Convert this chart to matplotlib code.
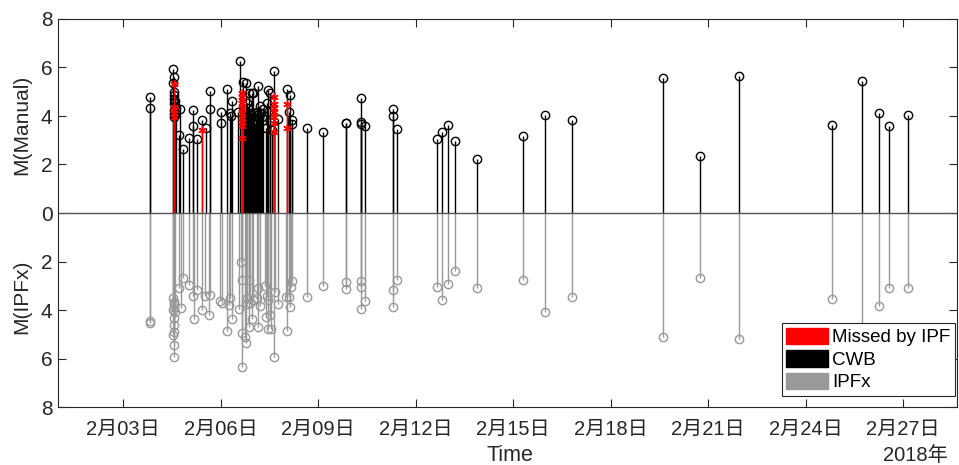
import numpy as np
import pandas as pd
import matplotlib
matplotlib.use("Agg")
import matplotlib.pyplot as plt
from matplotlib.patches import Patch

plt.rcParams['font.family'] = ['Liberation Sans', 'Noto Sans CJK SC']

# event times: days after 2018-02-01 00:00, magnitudes
cwb_t = [2.83, 2.83, 3.55, 3.56, 3.55, 3.57, 3.56, 3.58, 3.57, 3.59, 3.56, 3.58, 3.57,
         3.61, 3.62, 3.60, 3.73, 3.75, 3.86, 4.04, 4.16, 4.16, 4.29, 4.44, 4.55, 4.68,
         4.68, 5.00, 5.00, 5.21, 5.29, 5.32, 5.35, 5.55, 5.60, 5.70, 5.73, 5.75, 5.78,
         5.81, 5.84, 5.86, 5.88, 5.91, 5.94, 5.96, 5.99, 6.01, 6.04, 6.06, 6.08, 6.11,
         6.13, 6.16, 6.19, 6.22, 6.25, 6.27, 6.30, 6.39, 6.42, 6.45, 6.47, 6.52, 6.52,
         6.57, 6.65, 6.78, 7.04, 7.12, 7.14, 7.19, 7.21, 7.67, 8.14, 8.86, 8.87, 9.31,
         9.31, 9.33, 9.45, 10.32, 10.32, 10.44, 11.65, 11.81, 11.99, 12.22, 12.89, 14.30,
         14.98, 15.82, 18.60, 19.76, 20.95, 23.82, 24.75, 25.26, 25.57, 26.16]
cwb_m = [4.80, 4.32, 5.93, 5.62, 5.35, 5.00, 4.85, 4.70, 4.55, 4.40, 4.25, 4.10, 3.95,
         4.62, 4.35, 4.05, 3.22, 4.27, 2.64, 3.08, 4.25, 3.59, 3.04, 3.84, 3.52, 5.04,
         4.29, 4.18, 3.70, 5.10, 4.11, 4.00, 4.62, 4.18, 6.28, 5.41, 4.00, 4.20, 5.35,
         4.52, 3.90, 4.33, 4.94, 4.05, 4.11, 4.96, 3.95, 4.94, 4.11, 3.70, 3.85, 4.04,
         4.15, 5.24, 3.90, 4.41, 4.11, 3.95, 4.30, 3.49, 4.55, 5.07, 4.18, 4.94, 3.77,
         3.42, 5.87, 3.86, 5.10, 4.18, 4.87, 3.84, 3.67, 3.52, 3.34, 3.70, 3.72, 4.74,
         3.75, 3.68, 3.60, 4.29, 4.00, 3.45, 3.07, 3.33, 3.63, 2.97, 2.23, 3.19,
         4.03, 3.84, 5.55, 2.36, 5.66, 3.64, 5.46, 4.14, 3.57, 4.05]

missed_t = [3.56, 3.56, 3.56, 3.56, 3.56, 4.44,
            5.65, 5.65, 5.65, 5.65, 5.65, 5.65, 5.65, 5.65, 5.65, 5.65,
            6.65, 6.65, 6.65, 6.65, 6.65, 6.65, 6.65, 7.04, 7.04]
missed_m = [5.33, 4.38, 4.25, 4.11, 3.97, 3.42,
            4.94, 4.80, 4.67, 4.53, 4.33, 4.11, 3.90, 3.77, 3.57, 3.08,
            4.80, 4.50, 4.32, 4.18, 3.97, 3.70, 3.35, 4.48, 3.49]

ipf_t = [2.83, 2.83, 3.55, 3.56, 3.57, 3.55, 3.58, 3.56, 3.57, 3.55, 3.56, 3.56, 3.58,
         3.59, 3.73, 3.78, 3.86, 4.04, 4.16, 4.19, 4.29, 4.44, 4.52, 4.68, 4.66, 4.98,
         5.04, 5.21, 5.29, 5.26, 5.36, 5.57, 5.65, 5.63, 5.67, 5.67, 5.75, 5.78, 5.88,
         5.88, 5.98, 5.80, 5.83, 5.91, 6.01, 6.14, 6.16, 6.22, 6.11, 6.37, 6.42, 6.39,
         6.45, 6.55, 6.52, 6.47, 6.65, 6.68, 6.78, 7.04, 7.02, 7.14, 7.19, 7.17, 7.12,
         7.67, 8.14, 8.86, 8.87, 9.31, 9.33, 9.45, 9.31, 10.44, 10.32, 10.32, 11.65,
         11.81, 11.99, 12.22, 12.89, 14.30, 14.98, 15.82, 18.60, 19.76, 20.95, 23.82,
         24.75, 25.26, 25.57, 26.16]
ipf_m = [4.45, 4.52, 3.52, 3.66, 3.86, 4.00, 4.34, 4.62, 4.89, 5.03, 5.44, 5.92, 3.75,
         4.10, 3.08, 3.90, 2.69, 2.97, 3.42, 4.37, 3.18, 4.00, 3.42, 3.38, 4.22, 3.62,
         3.73, 4.85, 3.52, 3.79, 4.38, 3.97, 6.34, 2.00, 2.76, 4.96, 5.10, 5.35, 2.76,
         4.71, 4.38, 3.50, 3.75, 3.70, 3.60, 4.71, 3.10, 3.85, 3.50, 3.00, 3.42, 4.30,
         4.80, 4.80, 4.20, 3.60, 5.95, 3.24, 3.77, 4.85, 3.47, 3.86, 2.80, 3.06, 3.46,
         3.45, 3.00, 2.86, 3.13, 2.80, 3.07, 3.62, 3.96, 2.76, 3.18, 3.86, 3.07,
         3.57, 2.92, 2.41, 3.10, 2.76, 4.10, 3.46, 5.10, 2.68, 5.20, 3.53,
         6.60, 3.82, 3.10, 3.10]

tick_days = ['2018-02-03', '2018-02-06', '2018-02-09', '2018-02-12', '2018-02-15',
             '2018-02-18', '2018-02-21', '2018-02-24', '2018-02-27']
tick_labels = ['2月03日', '2月06日', '2月09日', '2月12日', '2月15日',
               '2月18日', '2月21日', '2月24日', '2月27日']

start = pd.Timestamp('2018-02-01')
def to_time(days):
    return start + pd.to_timedelta(np.array(days), unit='D')

gray = '#999999'
dark = '#262626'

fig = plt.figure(figsize=(9.59, 4.65), dpi=100)
ax = fig.add_axes([58/959, 58/465, 899/959, 388/465])

tc = to_time(cwb_t)
ax.vlines(tc, 0, cwb_m, color='black', lw=1.0)
ax.plot(tc, cwb_m, 'o', ms=6, mfc='none', mec='black', mew=1.0)

tm = to_time(missed_t)
ax.vlines(tm, 0, missed_m, color='red', lw=1.0)
ax.plot(tm, missed_m, marker=(6, 2, 0), ls='none', ms=6, color='red', mew=1.0)

ti = to_time(ipf_t)
ax.vlines(ti, 0, -np.array(ipf_m), color=gray, lw=1.0)
ax.plot(ti, -np.array(ipf_m), 'o', ms=6, mfc='none', mec=gray, mew=1.0)

ax.axhline(0, color='#555555', lw=1.0)

ax.set_ylim(-8, 8)
ax.set_xlim(start, start + pd.Timedelta(days=27.66))
yt = np.arange(-8, 9, 2)
ax.set_yticks(yt)
ax.set_yticklabels([str(abs(v)) for v in yt])
ax.set_xticks(pd.to_datetime(tick_days))
ax.set_xticklabels(tick_labels)
ax.tick_params(direction='in', length=6, width=0.8, colors=dark, top=True, right=True)
ax.tick_params(axis='x', labelsize=14.5, pad=9)
ax.tick_params(axis='y', labelsize=15, pad=4)
for s in ax.spines.values():
    s.set_color(dark)
    s.set_linewidth(0.8)

fig.text(22/959, 1 - 125/465, 'M(Manual)', rotation=90, ha='center', va='center',
         fontsize=15, color=dark)
fig.text(22/959, 1 - 297/465, 'M(IPFx)', rotation=90, ha='center', va='center',
         fontsize=15, color=dark)
fig.text(510/959, 1 - 455/465, 'Time', ha='center', va='center', fontsize=15.5,
         color=dark)
fig.text(948/959, 1 - 455/465, '2018年', ha='right', va='center', fontsize=14.5,
         color=dark)

handles = [Patch(facecolor='red', edgecolor='red', label='Missed by IPF'),
           Patch(facecolor='black', edgecolor='black', label='CWB'),
           Patch(facecolor=gray, edgecolor=gray, label='IPFx')]
leg = ax.legend(handles=handles, loc='lower right', bbox_to_anchor=(0.998, 0.028),
                borderaxespad=0, fontsize=13.5, handlelength=2.2, handleheight=1.0,
                handletextpad=0.25, labelspacing=0.2, borderpad=0.25,
                fancybox=False, framealpha=1)
leg.get_frame().set_edgecolor(dark)
leg.get_frame().set_linewidth(0.8)

fig.savefig('out.png', dpi=100)
